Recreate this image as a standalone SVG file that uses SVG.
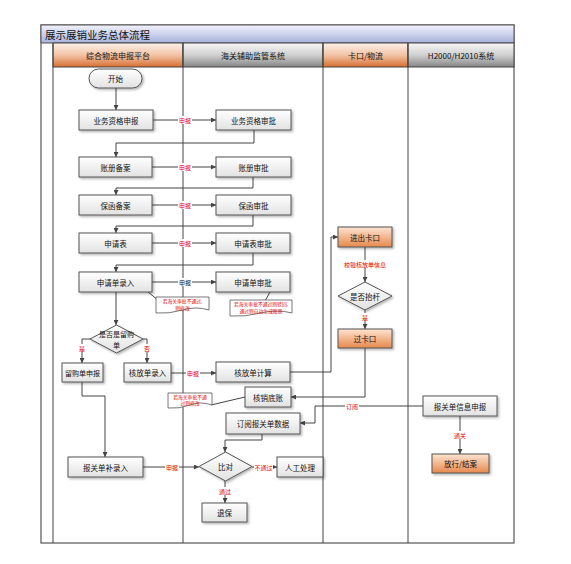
<svg xmlns="http://www.w3.org/2000/svg" width="571" height="564" viewBox="0 0 571 564">
<style>
text{font-family:"Noto Sans CJK SC","Liberation Sans",sans-serif;}
.t{font-size:7.5px;fill:#111;text-anchor:middle;dominant-baseline:central;}
.hd{font-size:8px;fill:#111;text-anchor:middle;dominant-baseline:central;}
.lb{font-size:6px;fill:#e00000;text-anchor:middle;dominant-baseline:central;}
.nt{font-size:4.8px;fill:#e00000;text-anchor:middle;dominant-baseline:central;}
.box{fill:url(#gBox);stroke:#555;stroke-width:1;filter:url(#sh);}
.obox{fill:url(#gOr);stroke:#555;stroke-width:1;filter:url(#sh);}
.note{fill:#fff;stroke:#555;stroke-width:0.8;}
.ln{fill:none;stroke:#444;stroke-width:1;}
.ar{fill:none;stroke:#444;stroke-width:1;marker-end:url(#ah);}
.lane{stroke:#444;stroke-width:1;}
.lbg{fill:#fff;}
</style>
<defs>
<linearGradient id="gTitle" x1="0" y1="0" x2="0" y2="1"><stop offset="0" stop-color="#f2f3fb"/><stop offset="1" stop-color="#a6b1dc"/></linearGradient>
<linearGradient id="gHO" x1="0" y1="0" x2="0" y2="1"><stop offset="0" stop-color="#fdf1ea"/><stop offset="0.5" stop-color="#f2c4a6"/><stop offset="1" stop-color="#d86f30"/></linearGradient>
<linearGradient id="gHG" x1="0" y1="0" x2="0" y2="1"><stop offset="0" stop-color="#f7f7f7"/><stop offset="0.5" stop-color="#d0d0d0"/><stop offset="1" stop-color="#858585"/></linearGradient>
<linearGradient id="gBox" x1="0" y1="0" x2="0" y2="1"><stop offset="0" stop-color="#ffffff"/><stop offset="1" stop-color="#e2e2e2"/></linearGradient>
<linearGradient id="gOr" x1="0" y1="0" x2="0" y2="1"><stop offset="0" stop-color="#fde4d2"/><stop offset="1" stop-color="#e6894c"/></linearGradient>
<filter id="sh" x="-20%" y="-20%" width="150%" height="160%"><feDropShadow dx="1.5" dy="1.5" stdDeviation="0.8" flood-color="#000" flood-opacity="0.3"/></filter>
<marker id="ah" viewBox="0 0 10 10" refX="10" refY="5" markerWidth="5" markerHeight="5" markerUnits="userSpaceOnUse" orient="auto"><path d="M0,0 L10,5 L0,10 Z" fill="#444"/></marker>
</defs>

<g id="frame">
<rect x="41" y="25" width="473" height="518" fill="#fff" stroke="#555" stroke-width="1.2"/>
<rect x="41" y="25" width="473" height="18" fill="url(#gTitle)" stroke="#555" stroke-width="1"/>
<text x="45" y="34" style="font-size:10.5px;fill:#111;dominant-baseline:central;">展示展销业务总体流程</text>
<rect x="53" y="43" width="130" height="24" fill="url(#gHO)" stroke="#444" stroke-width="1"/>
<rect x="183" y="43" width="140" height="24" fill="url(#gHG)" stroke="#444" stroke-width="1"/>
<rect x="323" y="43" width="85" height="24" fill="url(#gHO)" stroke="#444" stroke-width="1"/>
<rect x="408" y="43" width="106" height="24" fill="url(#gHG)" stroke="#444" stroke-width="1"/>
<text class="hd" x="118" y="55">综合物流申报平台</text>
<text class="hd" x="253" y="55">海关辅助监管系统</text>
<text class="hd" x="365.5" y="55">卡口/物流</text>
<text class="hd" x="461" y="55">H2000/H2010系统</text>
<line class="lane" x1="53" y1="43" x2="53" y2="543"/>
<line class="lane" x1="183" y1="43" x2="183" y2="543"/>
<line class="lane" x1="323" y1="43" x2="323" y2="543"/>
<line class="lane" x1="408" y1="43" x2="408" y2="543"/>
</g>

<g id="connectors">
<path class="ar" d="M116,88 V110"/>
<path class="ar" d="M153,120 H216"/>
<path class="ar" d="M254,130 V143 H116 V157"/>
<path class="ar" d="M152,167 H216"/>
<path class="ar" d="M253,177 V188 H116 V195"/>
<path class="ar" d="M152,205 H216"/>
<path class="ar" d="M253,215 V226 H116 V233"/>
<path class="ar" d="M152,243 H216"/>
<path class="ar" d="M253,253 V265 H116 V272"/>
<path class="ar" d="M152,282 H216"/>
<path class="ar" d="M116,292 V325"/>
<path class="ar" d="M90,339 H82 V363"/>
<path class="ar" d="M143,339 H147 V363"/>
<path class="ar" d="M171,373 H216"/>
<path class="ar" d="M290,372 H331 V237 H338"/>
<path class="ar" d="M365,247 V282"/>
<path class="ar" d="M365,310 V329"/>
<path class="ar" d="M365,348 V397 H291"/>
<path class="ar" d="M423,406 H315 V423 H300"/>
<path class="ar" d="M460,416 V454"/>
<path class="ar" d="M82,382 V396 H105 V457"/>
<path class="ar" d="M262,434 V440 H225 V452"/>
<path class="ar" d="M143,467 H199"/>
<path class="ar" d="M252,467 H277"/>
<path class="ar" d="M225,481 V503"/>
<path class="ln" d="M148,292 L158,300"/>
<path class="ln" d="M270,292 L265,301"/>
<path class="ln" d="M211,405 L245,397"/>
<g id="labels">
<rect class="lbg" x="178" y="116" width="14" height="8"/><text class="lb" x="185" y="120">申报</text>
<rect class="lbg" x="178" y="163" width="14" height="8"/><text class="lb" x="185" y="167">申报</text>
<rect class="lbg" x="178" y="201" width="14" height="8"/><text class="lb" x="185" y="205">申报</text>
<rect class="lbg" x="178" y="239" width="14" height="8"/><text class="lb" x="185" y="243">申报</text>
<rect class="lbg" x="178" y="278" width="14" height="8"/><text class="lb" x="185" y="282" style="fill:#111">申报</text>
<rect class="lbg" x="78" y="344" width="8" height="8"/><text class="lb" x="82" y="348">是</text>
<rect class="lbg" x="143" y="344" width="8" height="8"/><text class="lb" x="147" y="348">否</text>
<rect class="lbg" x="186" y="369" width="14" height="8"/><text class="lb" x="193" y="373">申报</text>
<rect class="lbg" x="344" y="260" width="42" height="8"/><text class="lb" x="365" y="264">校验核放单信息</text>
<rect class="lbg" x="361" y="313" width="8" height="8"/><text class="lb" x="365" y="317">是</text>
<rect class="lbg" x="345" y="402" width="14" height="8"/><text class="lb" x="352" y="406">订阅</text>
<rect class="lbg" x="453" y="431" width="14" height="8"/><text class="lb" x="460" y="435">通关</text>
<rect class="lbg" x="165" y="463" width="14" height="8"/><text class="lb" x="172" y="467">申报</text>
<rect class="lbg" x="254" y="463" width="19" height="8"/><text class="lb" x="263.5" y="467">不通过</text>
<rect class="lbg" x="218" y="487" width="14" height="8"/><text class="lb" x="225" y="491">通过</text>
</g>
</g>

<g id="n-start"><rect x="89" y="69" width="53" height="19" rx="9.5" fill="url(#gBox)" stroke="#555" filter="url(#sh)"/><text class="t" x="115.5" y="78.5">开始</text></g>
<g id="n1"><rect class="box" x="79" y="110" width="74" height="20"/><text class="t" x="116" y="120">业务资格申报</text></g>
<g id="n2"><rect class="box" x="216" y="110" width="75" height="20"/><text class="t" x="253.5" y="120">业务资格审批</text></g>
<g id="n3"><rect class="box" x="79" y="157" width="73" height="20"/><text class="t" x="115.5" y="167">账册备案</text></g>
<g id="n4"><rect class="box" x="216" y="157" width="75" height="20"/><text class="t" x="253.5" y="167">账册审批</text></g>
<g id="n5"><rect class="box" x="79" y="195" width="73" height="20"/><text class="t" x="115.5" y="205">保函备案</text></g>
<g id="n6"><rect class="box" x="216" y="195" width="75" height="20"/><text class="t" x="253.5" y="205">保函审批</text></g>
<g id="n7"><rect class="box" x="79" y="233" width="73" height="20"/><text class="t" x="115.5" y="243">申请表</text></g>
<g id="n8"><rect class="box" x="216" y="233" width="74" height="20"/><text class="t" x="253" y="243">申请表审批</text></g>
<g id="n9"><rect class="box" x="79" y="272" width="73" height="20"/><text class="t" x="115.5" y="282">申请单录入</text></g>
<g id="n10"><rect class="box" x="216" y="272" width="74" height="20"/><text class="t" x="253" y="282">申请单审批</text></g>
<g id="note1"><path class="note" d="M156,297 H209 V310 Q196,306 182.5,310 T156,313 Z"/><text class="nt" x="182.5" y="300.5">若海关审批不通过,</text><text class="nt" x="182.5" y="307">则修改</text></g>
<g id="note2"><path class="note" d="M230,300 H292 V313 Q277,309 261,313 T230,316 Z"/><text class="nt" x="261" y="303.5">若海关审批不通过则驳回,</text><text class="nt" x="261" y="310">通过则自动生成账册</text></g>
<g id="d1"><path d="M116.5,325 L143,339 L116.5,353 L90,339 Z" fill="url(#gBox)" stroke="#555" filter="url(#sh)"/><text class="t" x="116.5" y="334" style="font-size:7px">是否是留购</text><text class="t" x="116.5" y="344.5" style="font-size:7px">单</text></g>
<g id="n11"><rect class="box" x="62" y="363" width="41" height="19"/><text class="t" x="82.5" y="372.5" style="font-size:7px">留购单申报</text></g>
<g id="n12"><rect class="box" x="124" y="363" width="47" height="19"/><text class="t" x="147.5" y="372.5">核放单录入</text></g>
<g id="n13"><rect class="box" x="216" y="362" width="74" height="20"/><text class="t" x="253" y="372">核放单计算</text></g>
<g id="n14"><rect class="box" x="245" y="387" width="46" height="20"/><text class="t" x="268" y="397">核销底账</text></g>
<g id="note3"><path class="note" d="M168,393 H212 V405 Q201,401 190,405 T168,408 Z"/><text class="nt" x="190" y="396.5">若海关审批不通</text><text class="nt" x="190" y="402.5">过则修改</text></g>
<g id="n15"><rect class="box" x="226" y="413" width="74" height="21"/><text class="t" x="263" y="423.5">订阅报关单数据</text></g>
<g id="n16"><rect class="box" x="68" y="457" width="75" height="20"/><text class="t" x="105.5" y="467">报关单补录入</text></g>
<g id="d2"><path d="M225.5,452 L252,466.5 L225.5,481 L199,466.5 Z" fill="url(#gBox)" stroke="#555" filter="url(#sh)"/><text class="t" x="225.5" y="466.5">比对</text></g>
<g id="n17"><rect class="box" x="277" y="457" width="46" height="20"/><text class="t" x="300" y="467">人工处理</text></g>
<g id="n18"><rect class="box" x="202" y="503" width="45" height="19"/><text class="t" x="224.5" y="512.5">退保</text></g>
<g id="c1"><rect class="obox" x="338" y="227" width="54" height="20"/><text class="t" x="365" y="237">进出卡口</text></g>
<g id="d3"><path d="M365,282 L392,296 L365,310 L338,296 Z" fill="url(#gBox)" stroke="#555" filter="url(#sh)"/><text class="t" x="365" y="296">是否抬杆</text></g>
<g id="c2"><rect class="obox" x="338" y="329" width="54" height="19"/><text class="t" x="365" y="338.5">过卡口</text></g>
<g id="h1"><rect class="box" x="423" y="396" width="74" height="20"/><text class="t" x="460" y="406">报关单信息申报</text></g>
<g id="h2"><rect class="obox" x="432" y="454" width="57" height="19"/><text class="t" x="460.5" y="463.5">放行/结案</text></g>
</svg>
